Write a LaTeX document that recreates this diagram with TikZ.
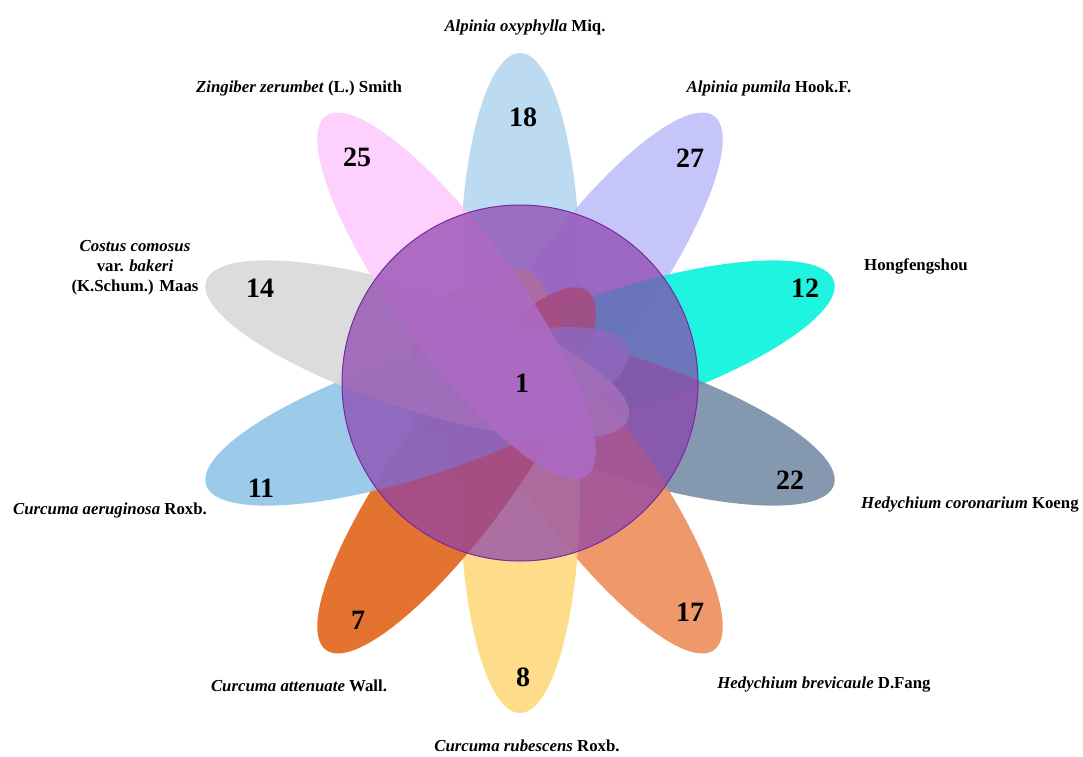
\documentclass[tikz,border=0pt]{standalone}
\usepackage{fontspec}
\setmainfont{Liberation Serif}
\definecolor{cA}{RGB}{179,215,239}
\definecolor{cB}{RGB}{190,190,249}
\definecolor{cC}{RGB}{0,243,220}
\definecolor{cD}{RGB}{115,138,164}
\definecolor{cE}{RGB}{237,140,87}
\definecolor{cF}{RGB}{253,217,122}
\definecolor{cG}{RGB}{226,96,20}
\definecolor{cH}{RGB}{143,196,231}
\definecolor{cI}{RGB}{216,216,216}
\definecolor{cJ}{RGB}{253,202,253}
\definecolor{circfill}{RGB}{140,65,172}
\definecolor{circline}{RGB}{120,40,160}
\begin{document}
\begin{tikzpicture}[x=1pt,y=1pt,
  petal/.style={fill opacity=0.88},
  lab/.style={font=\fontsize{16.8}{20}\selectfont\bfseries, align=center, inner sep=0pt},
  num/.style={font=\fontsize{28}{32}\selectfont\bfseries, inner sep=0pt}]
\useasboundingbox[fill=white] (0,0) rectangle (1083,-756);
\coordinate (O) at (520,-383);
\foreach \ang/\col in {90/cA,54/cB,18/cC,-18/cD,-54/cE,-90/cF,-126/cG,-162/cH,162/cI,126/cJ}{
  \fill[\col, petal, shift={(O)}, rotate=\ang] (108pt,0pt) ellipse [x radius=222pt, y radius=60pt];
}
\node[circle, minimum size=356pt, inner sep=0pt, fill=circfill, fill opacity=0.7, draw=circline, draw opacity=1, line width=1pt] (core) at (O) {};
% numbers
\node[num] (n1) at (522,-383) {1};
\node[num] (n18) at (523,-117) {18};
\node[num] (n27) at (690,-158) {27};
\node[num] (n12) at (805,-288) {12};
\node[num] (n22) at (790,-480) {22};
\node[num] (n17) at (690,-612) {17};
\node[num] (n8) at (523,-677) {8};
\node[num] (n7) at (358,-620) {7};
\node[num] (n11) at (261,-488) {11};
\node[num] (n14) at (260,-288) {14};
\node[num] (n25) at (357,-157) {25};
% labels
\node[lab] (lA) at (525,-27) {\textit{Alpinia oxyphylla} Miq.};
\node[lab] (lB) at (769,-88) {\textit{Alpinia pumila} Hook.F.};
\node[lab] (lC) at (916,-266) {Hongfengshou};
\node[lab, anchor=west] (lD) at (861,-505) {\textit{Hedychium coronarium} Koeng};
\node[lab] (lE) at (824,-685) {\textit{Hedychium brevicaule} D.Fang};
\node[lab] (lF) at (527,-746) {\textit{Curcuma rubescens} Roxb.};
\node[lab] (lG) at (299,-686) {\textit{Curcuma attenuate} Wall.};
\node[lab] (lH) at (110,-510) {\textit{Curcuma aeruginosa} Roxb.};
\node[lab] (lI) at (135,-268) {\textit{Costus comosus}\\var. \textit{bakeri}\\(K.Schum.) Maas};
\node[lab] (lJ) at (299,-88) {\textit{Zingiber zerumbet} (L.) Smith};
\end{tikzpicture}
\end{document}
